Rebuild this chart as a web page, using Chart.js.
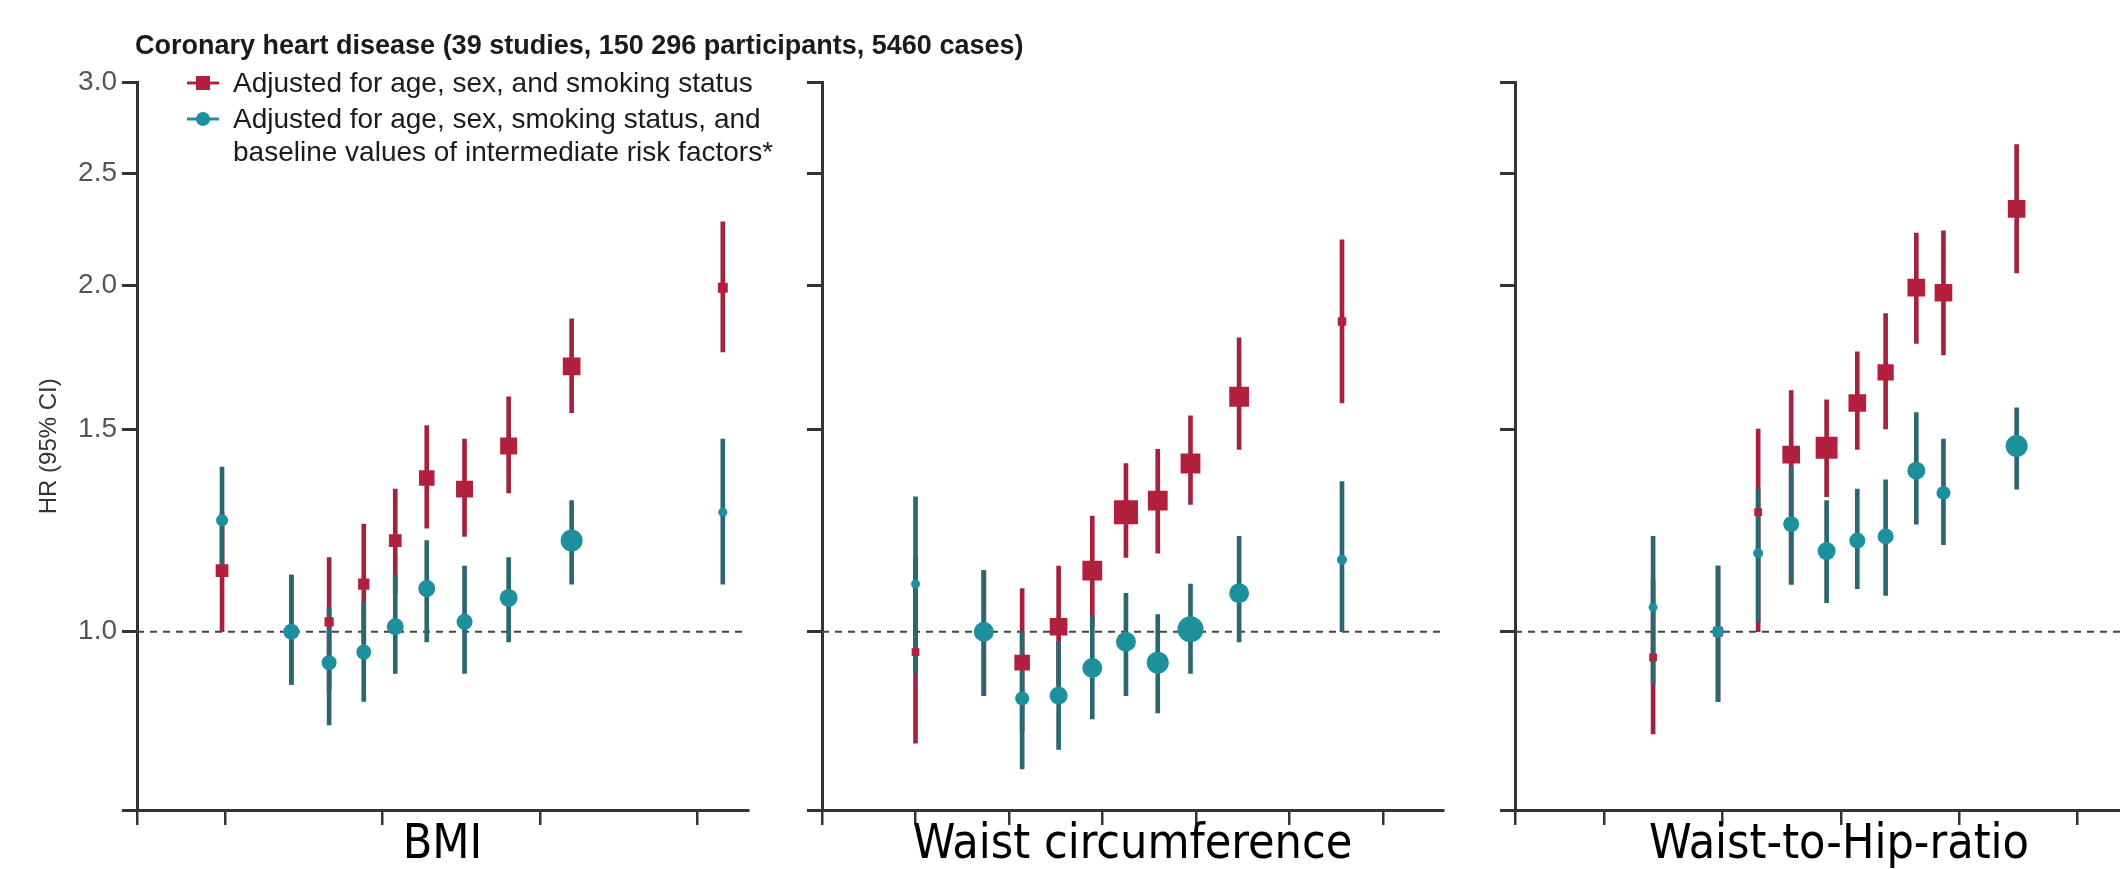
<!DOCTYPE html>
<html>
<head>
<meta charset="utf-8">
<title>Coronary heart disease HR by adiposity</title>
<script src="https://cdn.jsdelivr.net/npm/chart.js@4.4.1/dist/chart.umd.min.js"></script>
<style>
  html, body { margin:0; padding:0; background:#fff; width:2120px; height:869px; overflow:hidden; }
  #wrap { position:relative; width:2120px; height:869px; overflow:hidden; background:#fff; }
  #wrap canvas { position:absolute; top:0; }
</style>
</head>
<body>
<div id="wrap">
  <canvas id="chart-bmi" width="1100" height="900" style="left:0px"></canvas>
  <canvas id="chart-waist" width="700" height="900" style="left:780px"></canvas>
  <canvas id="chart-whr" width="720" height="900" style="left:1470px"></canvas>
</div>
<script>
// ─── Data ─────────────────────────────────────────────────────────────────────
const TITLE = 'Coronary heart disease (39 studies, 150 296 participants, 5460 cases)';
const LEGEND_RED = 'Adjusted for age, sex, and smoking status';
const LEGEND_TEAL = ['Adjusted for age, sex, smoking status, and', 'baseline values of intermediate risk factors*'];
const Y_TITLE = 'HR (95% CI)';
const Y_TICKS = [0.7, 1.0, 1.5, 2.0, 2.5, 3.0];

// BMI (kg/m²)
const BMI_TICKS = [20, 25, 30, 35];
const BMI_X        = [19.9, 22.1, 23.3, 24.4, 25.4, 26.4, 27.6, 29.0, 31.0, 35.8];
const BMI_RED      = [1.13, 1.00, 1.02, 1.10, 1.20, 1.36, 1.33, 1.45, 1.70, 1.99];
const BMI_RED_LO   = [1.00, 0.90, 0.89, 0.98, 1.08, 1.23, 1.21, 1.32, 1.55, 1.75];
const BMI_RED_HI   = [1.27, 1.12, 1.16, 1.24, 1.33, 1.51, 1.47, 1.60, 1.87, 2.27];
const BMI_TEAL     = [1.25, 1.00, 0.94, 0.96, 1.01, 1.09, 1.02, 1.07, 1.20, 1.27];
const BMI_TEAL_LO  = [1.12, 0.90, 0.83, 0.87, 0.92, 0.98, 0.92, 0.98, 1.10, 1.10];
const BMI_TEAL_HI  = [1.39, 1.12, 1.05, 1.06, 1.12, 1.20, 1.14, 1.16, 1.30, 1.47];

// Waist circumference (cm)
const WAIST_TICKS = [60, 70, 80, 90, 100, 110];
const WAIST_X       = [60.0, 67.3, 71.4, 75.3, 78.9, 82.5, 85.9, 89.4, 94.6, 105.6];
const WAIST_RED     = [0.96, 1.00, 0.94, 1.01, 1.13, 1.27, 1.30, 1.40, 1.60, 1.86];
const WAIST_RED_LO  = [0.80, 0.88, 0.82, 0.90, 1.01, 1.16, 1.17, 1.29, 1.44, 1.58];
const WAIST_RED_HI  = [1.16, 1.13, 1.09, 1.14, 1.26, 1.40, 1.44, 1.54, 1.80, 2.19];
const WAIST_TEAL    = [1.10, 1.00, 0.875, 0.88, 0.93, 0.98, 0.94, 1.005, 1.08, 1.155];
const WAIST_TEAL_LO = [0.92, 0.88, 0.76, 0.79, 0.84, 0.88, 0.85, 0.92, 0.98, 1.00];
const WAIST_TEAL_HI = [1.31, 1.13, 1.00, 0.98, 1.03, 1.08, 1.035, 1.10, 1.21, 1.35];

// Waist-to-hip ratio
const WHR_TICKS = [0.7, 0.8, 0.9, 1.0, 1.1];
const WHR_X       = [0.741, 0.796, 0.830, 0.858, 0.888, 0.914, 0.938, 0.964, 0.987, 1.049];
const WHR_RED     = [0.95, 1.00, 1.27, 1.425, 1.445, 1.58, 1.68, 1.99, 1.97, 2.33];
const WHR_RED_LO  = [0.815, 0.87, 1.00, 1.10, 1.31, 1.44, 1.50, 1.78, 1.74, 2.05];
const WHR_RED_HI  = [1.11, 1.14, 1.50, 1.62, 1.59, 1.75, 1.89, 2.22, 2.23, 2.65];
const WHR_TEAL    = [1.05, 1.00, 1.17, 1.24, 1.175, 1.20, 1.21, 1.38, 1.32, 1.45];
const WHR_TEAL_LO = [0.90, 0.87, 1.02, 1.10, 1.06, 1.09, 1.075, 1.24, 1.19, 1.33];
const WHR_TEAL_HI = [1.21, 1.14, 1.33, 1.39, 1.30, 1.33, 1.355, 1.55, 1.47, 1.565];

// marker radii (inverse-variance weighting of each group)
const BMI_RED_R    = [9, 8, 6.5, 8, 9, 11, 12, 12, 12.5, 7];
const BMI_TEAL_R   = [6, 8, 7.5, 7.5, 8.5, 8.5, 8, 9, 11, 4.5];
const WAIST_RED_R  = [5.5, 10, 11, 12.5, 14, 17, 14, 14, 14, 6];
const WAIST_TEAL_R = [4.5, 10, 7, 9, 10, 10, 11, 13, 10, 5];
const WHR_RED_R    = [5.5, 7, 5.5, 12.5, 15.5, 12.5, 11.5, 12.5, 12.5, 12.5];
const WHR_TEAL_R   = [4.5, 6, 5, 8, 9, 8, 8, 9, 7, 11];

// ─── Style ────────────────────────────────────────────────────────────────────
const RED = '#b2203e', RED_CI = '#a3223f';
const TEAL = '#1c909c', TEAL_CI = '#2c6670';
const AXIS = '#333333';
const SANS = "'Liberation Sans', Arial, sans-serif";
const NARROW = "'Liberation Sans Narrow', 'DejaVu Sans Condensed', 'Liberation Sans', sans-serif";

// title + legend block, drawn on the first panel
const legendBlock = {
  id: 'legendBlock',
  afterDraw(chart) {
    const ctx = chart.ctx;
    ctx.save();
    ctx.textBaseline = 'middle';
    ctx.fillStyle = '#1b1b1b';
    ctx.font = `bold 27px ${SANS}`;
    ctx.fillText(TITLE, 135, 47);

    ctx.lineWidth = 3;
    ctx.strokeStyle = RED; ctx.fillStyle = RED;
    ctx.beginPath(); ctx.moveTo(187, 83); ctx.lineTo(219, 83); ctx.stroke();
    ctx.fillRect(196, 76, 14, 14);

    ctx.strokeStyle = TEAL; ctx.fillStyle = TEAL;
    ctx.beginPath(); ctx.moveTo(187, 119); ctx.lineTo(219, 119); ctx.stroke();
    ctx.beginPath(); ctx.arc(203, 119, 7, 0, Math.PI * 2); ctx.fill();

    ctx.fillStyle = '#1b1b1b';
    ctx.font = `28px ${SANS}`;
    ctx.fillText(LEGEND_RED, 233, 84);
    ctx.fillText(LEGEND_TEAL[0], 233, 120);
    ctx.fillText(LEGEND_TEAL[1], 233, 153);
    ctx.restore();
  }
};

function renderPanel(id, p) {
  const pts = (ys) => p.x.map((x, i) => ({ x, y: ys[i] }));
  const ci = (lo, hi) => p.x.map((x, i) => ({ x, y: [lo[i], hi[i]] }));
  return new Chart(document.getElementById(id), {
    type: 'scatter',
    data: {
      datasets: [
        { type:'scatter', data: pts(p.teal), pointStyle:'circle', pointRadius: p.tealR,
          backgroundColor: TEAL, borderColor: TEAL, pointBorderWidth: 0, order: 0 },
        { type:'scatter', data: pts(p.red), pointStyle:'rect', pointRadius: p.redR,
          backgroundColor: RED, borderColor: RED, pointBorderWidth: 0, order: 1 },
        { type:'bar', data: ci(p.tealLo, p.tealHi), backgroundColor: TEAL_CI,
          barThickness: 4, grouped: false, order: 2 },
        { type:'bar', data: ci(p.redLo, p.redHi), backgroundColor: RED_CI,
          barThickness: 4, grouped: false, order: 3 },
        { type:'line', data: [{ x: p.min, y: 1 }, { x: p.max, y: 1 }], borderColor: '#444',
          borderWidth: 2, borderDash: [7, 6], pointRadius: 0, order: 4 },
      ]
    },
    options: {
      responsive: false,
      animation: false,
      layout: { padding: { left: 0, right: p.padRight, top: 82.5, bottom: 0 } },
      plugins: { legend: { display: false }, tooltip: { enabled: false } },
      scales: {
        x: {
          type: 'linear', min: p.min, max: p.max, offset: false,
          afterBuildTicks: s => { s.ticks = [p.min, ...p.ticks].map(v => ({ value: v })); },
          afterFit: s => { s.height = 90; },
          ticks: { autoSkip: false, callback: () => '' },
          grid: { offset: false, drawOnChartArea: false, drawTicks: true, tickLength: 15, color: AXIS, lineWidth: 2.5 },
          border: { color: AXIS, width: 3 },
          title: { display: true, text: p.label, color: '#000',
                   font: { family: NARROW, size: 48, lineHeight: 1 }, padding: { top: 0, bottom: 30 } }
        },
        y: {
          type: 'logarithmic', min: 0.7, max: 3.0,
          afterBuildTicks: s => { s.ticks = Y_TICKS.map(v => ({ value: v })); },
          afterFit: s => { s.width = p.yWidth; },
          ticks: { autoSkip: false, padding: 5, color: '#555', font: { family: SANS, size: 28 },
                   callback: v => (p.showY && v !== 0.7) ? v.toFixed(1) : '' },
          grid: { offset: false, drawOnChartArea: false, drawTicks: true, tickLength: 15, color: AXIS, lineWidth: 3 },
          border: { color: AXIS, width: 3 },
          title: { display: p.showY, text: Y_TITLE, color: '#333',
                   font: { family: SANS, size: 24 }, padding: { top: 35, bottom: 0 } }
        }
      }
    },
    plugins: p.extra ? [p.extra] : []
  });
}

renderPanel('chart-bmi', {
  label: 'BMI', x: BMI_X, ticks: BMI_TICKS, min: 17.2, max: 36.6,
  red: BMI_RED, redLo: BMI_RED_LO, redHi: BMI_RED_HI, redR: BMI_RED_R,
  teal: BMI_TEAL, tealLo: BMI_TEAL_LO, tealHi: BMI_TEAL_HI, tealR: BMI_TEAL_R,
  yWidth: 137, padRight: 352, showY: true, extra: legendBlock
});
renderPanel('chart-waist', {
  label: 'Waist circumference', x: WAIST_X, ticks: WAIST_TICKS, min: 50, max: 116.4,
  red: WAIST_RED, redLo: WAIST_RED_LO, redHi: WAIST_RED_HI, redR: WAIST_RED_R,
  teal: WAIST_TEAL, tealLo: WAIST_TEAL_LO, tealHi: WAIST_TEAL_HI, tealR: WAIST_TEAL_R,
  yWidth: 42, padRight: 37, showY: false
});
renderPanel('chart-whr', {
  label: 'Waist-to-Hip-ratio', x: WHR_X, ticks: WHR_TICKS, min: 0.624, max: 1.173,
  red: WHR_RED, redLo: WHR_RED_LO, redHi: WHR_RED_HI, redR: WHR_RED_R,
  teal: WHR_TEAL, tealLo: WHR_TEAL_LO, tealHi: WHR_TEAL_HI, tealR: WHR_TEAL_R,
  yWidth: 45, padRight: 27, showY: false
});
</script>
</body>
</html>
